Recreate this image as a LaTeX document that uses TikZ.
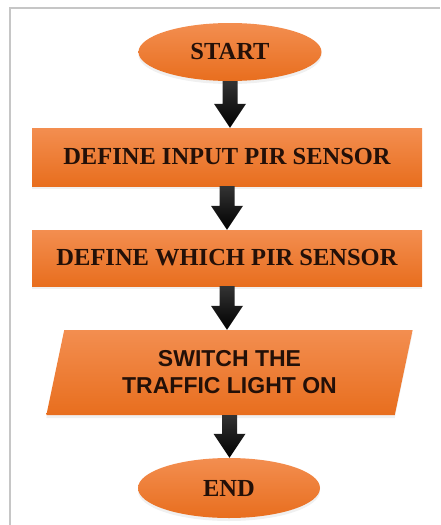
\documentclass[tikz,border=0pt]{standalone}
\usepackage{fontspec}
\setmainfont{Liberation Serif}
\setsansfont{Liberation Sans}
\usetikzlibrary{shapes.geometric,calc,shadows}

\definecolor{boxtop}{RGB}{243,142,80}
\definecolor{boxbot}{RGB}{232,110,30}
\definecolor{boxtext}{RGB}{35,16,8}

\begin{document}
\begin{tikzpicture}[x=1pt,y=-1pt,
	box/.style={top color=boxtop, bottom color=boxbot, draw=none, text=boxtext,
		font=\fontsize{24.5}{27}\selectfont\bfseries, inner sep=0pt,
		drop shadow={opacity=0.12, shadow xshift=0pt, shadow yshift=-3pt}},
	term/.style={box, ellipse},
	proc/.style={box, rectangle},
	io/.style={box, trapezium, trapezium left angle=75, trapezium right angle=105,
		trapezium stretches=true, align=center,
		font=\fontsize{23}{27}\selectfont\sffamily\bfseries},
	flowarrow/.style={top color=black!80, bottom color=black}]
	\useasboundingbox (0,0) rectangle (440,525);
	% frame
	\draw[gray!45, line width=2pt] (9.5,525) -- (9.5,8) -- (440,8);
	% nodes
	\node[term, minimum width=183, minimum height=58] (start) at (230,52) {START};
	\node[proc, minimum width=390, minimum height=58] (def1) at (227,157) {DEFINE INPUT PIR SENSOR};
	\node[proc, minimum width=390, minimum height=56] (def2) at (227,258) {DEFINE WHICH PIR SENSOR};
	\node[io, minimum width=367, minimum height=85] (sw) at (229.5,372.5) {SWITCH THE\\TRAFFIC LIGHT ON};
	\node[term, minimum width=182, minimum height=60] (stop) at (229,488) {END};
	% arrows
	\foreach \a/\b in {start/def1,def1/def2,def2/sw,sw/stop}{
		\coordinate (tip) at (\a.south |- \b.north);
		\shade[flowarrow] ($(\a.south)+(-7.5,0)$) -- ($(tip)+(-7.5,-24)$) -- ($(tip)+(-16,-24)$)
			-- (tip) -- ($(tip)+(16,-24)$) -- ($(tip)+(7.5,-24)$) -- ($(\a.south)+(7.5,0)$) -- cycle;
	}
\end{tikzpicture}
\end{document}
